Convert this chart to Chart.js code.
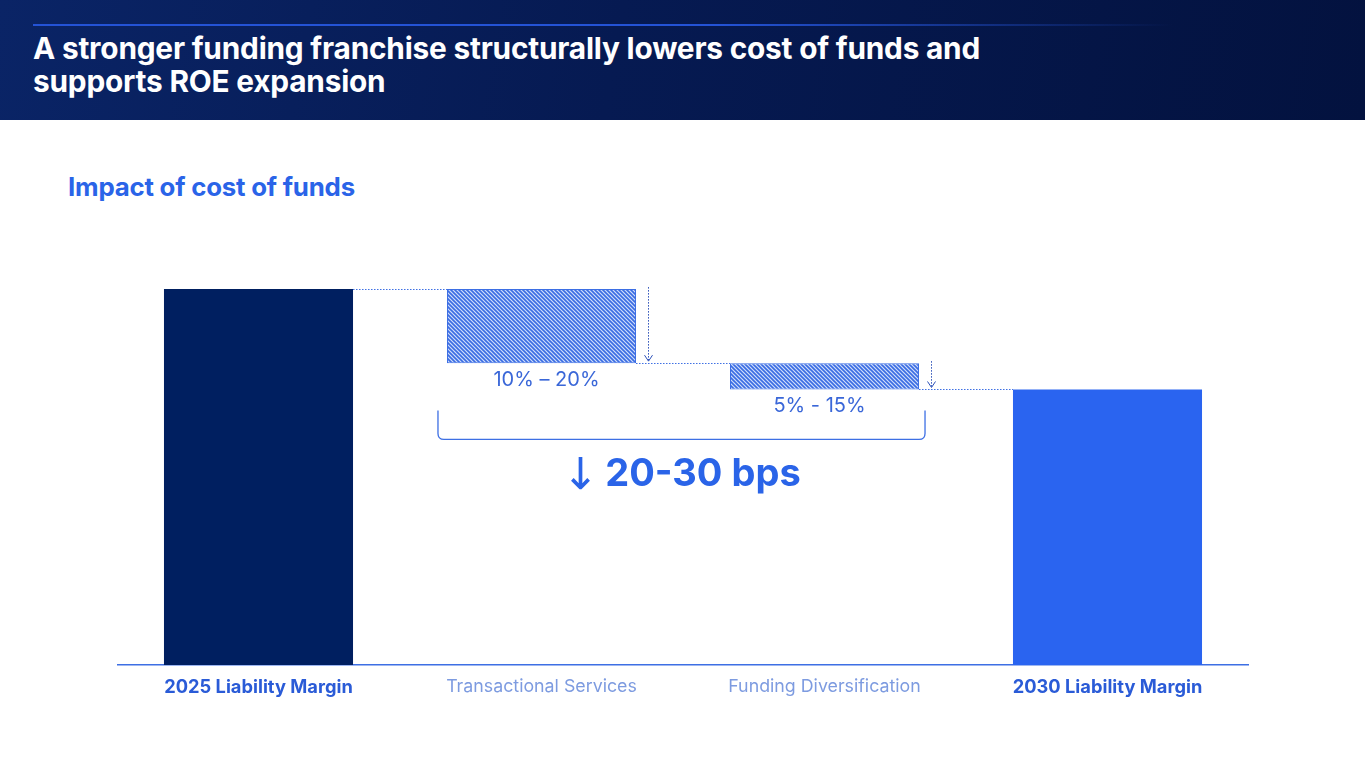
<!DOCTYPE html>
<html>
<head>
<meta charset="utf-8">
<script src="https://cdn.jsdelivr.net/npm/chart.js@4.4.0/dist/chart.umd.min.js"></script>
<style>
  html, body { margin: 0; padding: 0; background: #fff; font-family: Inter, "Noto Sans", sans-serif; }
  body { width: 1365px; height: 768px; position: relative; overflow: hidden; }
  .header { position: absolute; left: 0; top: 0; width: 1365px; height: 120px;
    background: linear-gradient(100deg, #0a2466 0%, #061a52 45%, #03123f 100%); }
  .header .rule { position: absolute; left: 33px; top: 24px; width: 1140px; height: 2px;
    background: linear-gradient(90deg, #2453d6 0%, #2453d6 60%, rgba(36,83,214,0) 100%); }
  .header h1 { position: absolute; left: 33px; top: 32px; margin: 0; color: #fff;
    font-size: 29.8px; line-height: 33px; font-weight: 700; letter-spacing: -0.2px; }
  .subtitle { position: absolute; left: 68px; top: 171px; margin: 0; color: #2a64e8;
    font-size: 25.8px; font-weight: 700; letter-spacing: -0.2px; }
  .wrap { position: absolute; left: 117px; top: 200px; width: 1132px; height: 509px; }
</style>
</head>
<body>
<div class="header">
  <div class="rule"></div>
  <h1>A stronger funding franchise structurally lowers cost of funds and<br>supports ROE expansion</h1>
</div>
<div class="subtitle">Impact of cost of funds</div>
<div class="wrap"><canvas id="chart"></canvas></div>
<script>
// --- DATOS ---
const categories = ["2025 Liability Margin", "Transactional Services", "Funding Diversification", "2030 Liability Margin"];
const barStart = [0, 80.3, 73.3, 0];
const barEnd = [100, 100, 80.3, 73.3];
const rangeLabels = ["", "10% \u2013 20%", "5% - 15%", ""];
const totalArrow = "\u2193";
const totalLabel = "20-30 bps";
const Y_MAX = 123.7;

// --- PATRON RAYADO ---
function makeHatch() {
  const c = document.createElement("canvas");
  c.width = 4; c.height = 4;
  const g = c.getContext("2d");
  g.fillStyle = "#d0defa";
  g.fillRect(0, 0, 4, 4);
  g.strokeStyle = "#3a6ce3";
  g.lineWidth = 1.6;
  g.beginPath();
  g.moveTo(-1, -1); g.lineTo(5, 5);
  g.moveTo(-1, 3); g.lineTo(1, 5);
  g.moveTo(3, -1); g.lineTo(5, 1);
  g.stroke();
  return g.createPattern(c, "repeat");
}
const hatch = makeHatch();

const fills = ["#001f60", hatch, hatch, "#2a64f0"];
const borders = ["#001f60", "#3d6fe4", "#3d6fe4", "#2a64f0"];
const tickFont = "Inter, 'Noto Sans', sans-serif";

// --- ANOTACIONES ---
const waterfallDecor = {
  id: "waterfallDecor",
  afterDatasetsDraw(chart) {
    const ctx = chart.ctx;
    const y = chart.scales.y;
    const bars = chart.getDatasetMeta(0).data;
    const edge = i => ({ l: bars[i].x - bars[i].width / 2, r: bars[i].x + bars[i].width / 2 });

    ctx.save();
    // conectores punteados
    ctx.strokeStyle = "#3d6fe4";
    ctx.lineWidth = 1;
    ctx.setLineDash([1.5, 1.5]);
    for (let i = 0; i < bars.length - 1; i++) {
      const lvl = i === 0 ? barEnd[0] : barStart[i];
      const py = Math.round(y.getPixelForValue(lvl)) + 0.5;
      ctx.beginPath();
      ctx.moveTo(edge(i).r, py);
      ctx.lineTo(edge(i + 1).l, py);
      ctx.stroke();
    }
    // flechas verticales
    [1, 2].forEach(i => {
      const ax = Math.round(edge(i).r + 12) + 0.5;
      const y0 = y.getPixelForValue(barEnd[i]) - 2;
      const y1 = y.getPixelForValue(barStart[i]) - 2;
      ctx.setLineDash([1.5, 1.5]);
      ctx.strokeStyle = "#2a4fb8";
      ctx.beginPath();
      ctx.moveTo(ax, y0); ctx.lineTo(ax, y1);
      ctx.stroke();
      ctx.setLineDash([]);
      ctx.beginPath();
      ctx.moveTo(ax - 4, y1 - 6); ctx.lineTo(ax, y1); ctx.lineTo(ax + 4, y1 - 6);
      ctx.stroke();
    });
    // etiquetas de rango
    ctx.setLineDash([]);
    ctx.fillStyle = "#3a67d8";
    ctx.font = "20px " + tickFont;
    ctx.textAlign = "center";
    ctx.textBaseline = "middle";
    rangeLabels.forEach((t, i) => {
      if (!t) return;
      const off = i === 2 ? -5 : 5;
      ctx.fillText(t, bars[i].x + off, y.getPixelForValue(barStart[i]) + 17);
    });
    // llave
    const bl = edge(1).l - 9, br = edge(2).r + 6;
    const bt = y.getPixelForValue(barStart[2]) + 21, bb = bt + 29, r = 6;
    ctx.strokeStyle = "#3d6fe4";
    ctx.lineWidth = 1.3;
    ctx.beginPath();
    ctx.moveTo(bl, bt);
    ctx.lineTo(bl, bb - r);
    ctx.quadraticCurveTo(bl, bb, bl + r, bb);
    ctx.lineTo(br - r, bb);
    ctx.quadraticCurveTo(br, bb, br, bb - r);
    ctx.lineTo(br, bt);
    ctx.stroke();
    // total
    ctx.fillStyle = "#2a64e8";
    ctx.textAlign = "left";
    ctx.font = "700 38px " + tickFont;
    const wText = ctx.measureText(totalLabel).width;
    ctx.font = "400 44px 'DejaVu Sans', sans-serif";
    const wArrow = ctx.measureText(totalArrow).width;
    const gap = 6;
    const x0 = (bl + br) / 2 - (wArrow + gap + wText) / 2;
    ctx.fillText(totalArrow, x0, bb + 38);
    ctx.font = "700 38px " + tickFont;
    ctx.fillText(totalLabel, x0 + wArrow + gap, bb + 35);
    ctx.restore();
  }
};

new Chart(document.getElementById("chart").getContext("2d"), {
  type: "bar",
  data: {
    labels: categories,
    datasets: [{
      data: barStart.map((s, i) => [s, barEnd[i]]),
      backgroundColor: fills,
      borderColor: borders,
      borderWidth: [0, 1, 1, 0],
      borderSkipped: false,
      barPercentage: 0.668,
      categoryPercentage: 1
    }]
  },
  options: {
    responsive: true,
    maintainAspectRatio: false,
    animation: false,
    layout: { padding: 0 },
    plugins: { legend: { display: false }, tooltip: { enabled: false } },
    scales: {
      x: {
        grid: { display: false, drawTicks: false },
        border: { display: true, color: "#3d6fe4", width: 1.5 },
        ticks: {
          padding: 11,
          autoSkip: false,
          maxRotation: 0,
          font: ctx => (ctx.index === 0 || ctx.index === 3)
            ? { family: tickFont, size: 18.3, weight: "700" }
            : { family: tickFont, size: 17.8, weight: "400" },
          color: ctx => (ctx.index === 0 || ctx.index === 3) ? "#2a5bd7" : "#7d9be0"
        }
      },
      y: { display: false, min: 0, max: Y_MAX }
    }
  },
  plugins: [waterfallDecor]
});
</script>
</body>
</html>
